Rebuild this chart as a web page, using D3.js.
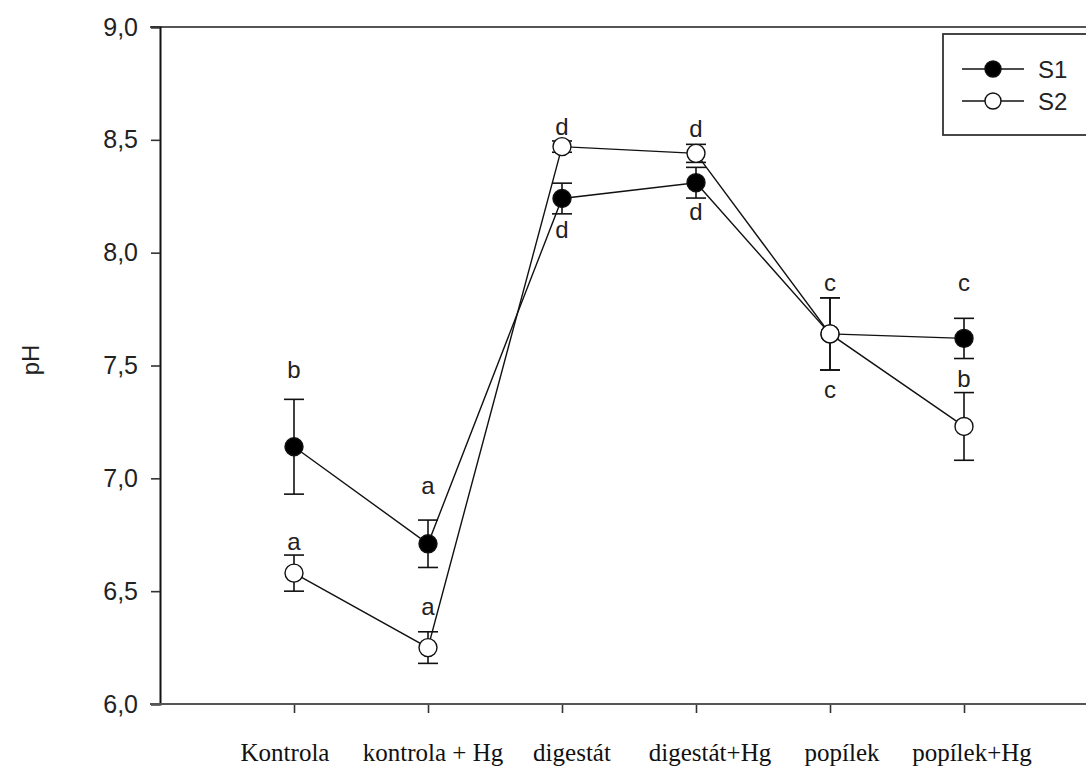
<!DOCTYPE html>
<html>
<head>
<meta charset="utf-8">
<script src="https://cdn.jsdelivr.net/npm/d3@7"></script>
<style>
  html, body { margin: 0; padding: 0; background: #fff; }
  svg { display: block; }
</style>
</head>
<body>
<svg id="chart" width="1086" height="769"></svg>
<script>
// ---- data ----
const categories = ["Kontrola", "kontrola + Hg", "digestát", "digestát+Hg", "popílek", "popílek+Hg"];
const s1Mean = [7.14, 6.71, 8.24, 8.31, 7.64, 7.62];
const s1Err  = [0.21, 0.105, 0.068, 0.068, 0.16, 0.089];
const s2Mean = [6.58, 6.25, 8.47, 8.44, 7.64, 7.23];
const s2Err  = [0.08, 0.07, 0.025, 0.04, 0.16, 0.15];
const seriesNames = ["S1", "S2"];
const yTicks = [6.0, 6.5, 7.0, 7.5, 8.0, 8.5, 9.0];
// significance letters: category index, letter, anchor value (pH, baseline)
const letters = [
  [0, "b", 7.445], [0, "a", 6.682],
  [1, "a", 6.931], [1, "a", 6.394],
  [2, "d", 8.521], [2, "d", 8.064],
  [3, "d", 8.511], [3, "d", 8.145],
  [4, "c", 7.831], [4, "c", 7.355],
  [5, "c", 7.831], [5, "b", 7.406]
];

(function () {
// ---- layout ----
const svg = d3.select("#chart");
const mLeft = 160, mTop = 27, mBottom = 704, mRight = 1098;

const x = d3.scalePoint().domain(categories).range([mLeft, mRight]).padding(1);
const y = d3.scaleLinear().domain([6, 9]).range([mBottom, mTop]);

// frame top line
svg.append("line")
  .attr("x1", 150).attr("x2", 1086).attr("y1", y(9)).attr("y2", y(9))
  .attr("stroke", "#555").attr("stroke-width", 2);

// y axis
const yAxis = svg.append("g")
  .attr("transform", `translate(${mLeft},0)`)
  .call(d3.axisLeft(y).tickValues(yTicks).tickSize(9).tickPadding(13)
    .tickFormat(d => d3.format(".1f")(d).replace(".", ",")));
yAxis.select(".domain").attr("stroke", "#111").attr("stroke-width", 2);
yAxis.selectAll(".tick line").attr("stroke", "#333").attr("stroke-width", 1.6);
yAxis.selectAll(".tick text")
  .attr("font-family", "Liberation Sans, Arial, sans-serif")
  .attr("font-size", 25).attr("fill", "#222");

// x axis
const xAxis = svg.append("g")
  .attr("transform", `translate(0,${mBottom})`)
  .call(d3.axisBottom(x).tickSize(9).tickSizeOuter(0).tickFormat(""));
xAxis.select(".domain").remove();
xAxis.selectAll(".tick line").attr("stroke", "#333").attr("stroke-width", 1.6);
svg.append("line")
  .attr("x1", 150).attr("x2", 1086).attr("y1", mBottom).attr("y2", mBottom)
  .attr("stroke", "#555").attr("stroke-width", 2);

// x labels (Times)
const nudge = [-9, 5, 10, 14, 12, 8];
svg.append("g").selectAll("text").data(categories).join("text")
  .attr("x", (d, i) => x(d) + nudge[i])
  .attr("y", 761)
  .attr("text-anchor", "middle")
  .attr("font-family", "Liberation Serif, Times New Roman, serif")
  .attr("font-size", 25).attr("fill", "#111")
  .text(d => d);

// y title
svg.append("text")
  .attr("transform", `translate(39,360) rotate(-90)`)
  .attr("text-anchor", "middle")
  .attr("font-family", "Liberation Sans, Arial, sans-serif")
  .attr("font-size", 24).attr("fill", "#222")
  .text("pH");

// ---- series ----
const line = d3.line().x((d, i) => x(categories[i])).y(d => y(d));
const capHalf = 10, r = 9;

function drawSeries(means, errs, fill) {
  const g = svg.append("g");
  g.append("path").datum(means).attr("d", line)
    .attr("fill", "none").attr("stroke", "#111").attr("stroke-width", 1.4);
  const eb = g.append("g").selectAll("g").data(means).join("g");
  eb.append("line")
    .attr("x1", (d, i) => x(categories[i])).attr("x2", (d, i) => x(categories[i]))
    .attr("y1", (d, i) => y(d + errs[i])).attr("y2", (d, i) => y(d - errs[i]))
    .attr("stroke", "#111").attr("stroke-width", 1.6);
  [1, -1].forEach(sgn => {
    eb.append("line")
      .attr("x1", (d, i) => x(categories[i]) - capHalf).attr("x2", (d, i) => x(categories[i]) + capHalf)
      .attr("y1", (d, i) => y(d + sgn * errs[i])).attr("y2", (d, i) => y(d + sgn * errs[i]))
      .attr("stroke", "#111").attr("stroke-width", 1.6);
  });
  g.append("g").selectAll("circle").data(means).join("circle")
    .attr("cx", (d, i) => x(categories[i])).attr("cy", d => y(d)).attr("r", r)
    .attr("fill", fill).attr("stroke", "#111").attr("stroke-width", 1.4);
}
drawSeries(s1Mean, s1Err, "#000");
drawSeries(s2Mean, s2Err, "#fff");

// letters
svg.append("g").selectAll("text").data(letters).join("text")
  .attr("x", d => x(categories[d[0]]))
  .attr("y", d => y(d[2]))
  .attr("text-anchor", "middle")
  .attr("font-family", "Liberation Sans, Arial, sans-serif")
  .attr("font-size", 24).attr("fill", "#222")
  .text(d => d[1]);

// ---- legend ----
const lg = svg.append("g");
lg.append("rect").attr("x", 943).attr("y", 34).attr("width", 160).attr("height", 101)
  .attr("fill", "#fff").attr("stroke", "#333").attr("stroke-width", 1.8);
const rows = [{ name: seriesNames[0], fill: "#000", yy: 69 }, { name: seriesNames[1], fill: "#fff", yy: 101 }];
rows.forEach(rw => {
  lg.append("line").attr("x1", 962).attr("x2", 1024).attr("y1", rw.yy).attr("y2", rw.yy)
    .attr("stroke", "#111").attr("stroke-width", 1.4);
  lg.append("circle").attr("cx", 993).attr("cy", rw.yy).attr("r", 8)
    .attr("fill", rw.fill).attr("stroke", "#111").attr("stroke-width", 1.4);
  lg.append("text").attr("x", 1038).attr("y", rw.yy + 9)
    .attr("font-family", "Liberation Sans, Arial, sans-serif")
    .attr("font-size", 24).attr("fill", "#222").text(rw.name);
});
})();
</script>
</body>
</html>
